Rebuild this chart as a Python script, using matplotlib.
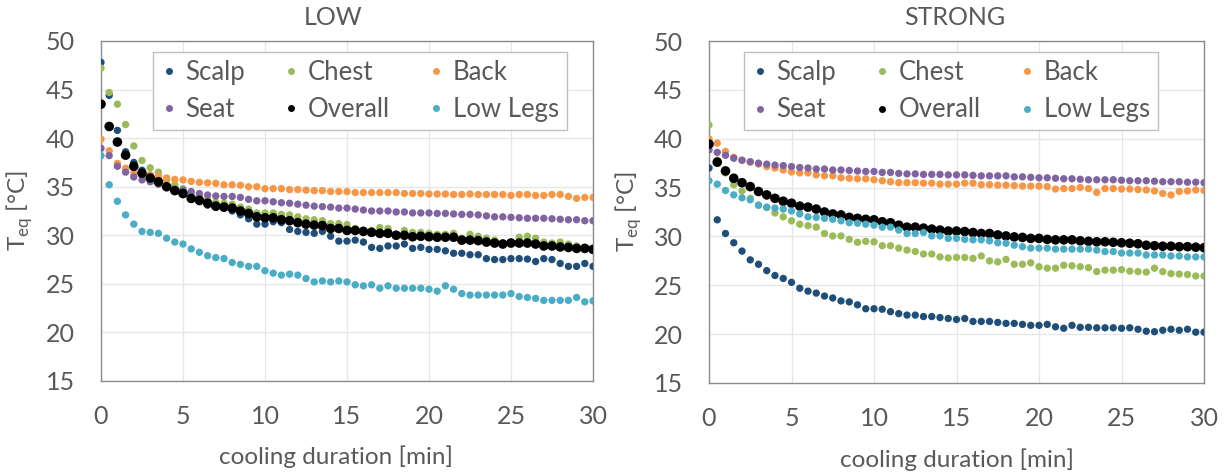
import matplotlib
matplotlib.use("Agg")
import matplotlib.pyplot as plt
from matplotlib.lines import Line2D

# cooling duration [min], one reading every 30 s
minutes = [i * 0.5 for i in range(61)]

series_names = ["Scalp", "Chest", "Back", "Seat", "Overall", "Low Legs"]
series_colors = ["#1F4E79", "#9BBB59", "#F79646", "#8064A2", "#000000", "#4BACC6"]

# LOW cooling
scalp_low = [47.8, 44.4, 40.8, 38.6, 37.5, 36.7, 36.2, 35.7, 35.1, 34.6, 34.2, 33.7, 33.45, 33.1, 32.9,
             32.8, 32.5, 32.1, 31.7, 31.15, 31.15, 31.4, 31.3,
             30.6, 30.4, 30.3, 30.2, 30.4, 29.9, 29.4, 29.4, 29.5, 29.3, 28.75, 28.65, 28.9, 28.9, 29.1,
             28.65, 28.75, 28.55, 28.55, 28.4, 28.15, 28.15, 28.0, 28.0, 27.6, 27.5, 27.5, 27.6, 27.6,
             27.55, 27.3, 27.6, 27.5, 27.1, 26.8, 26.8, 27.1, 26.8]
chest_low = [47.2, 44.7, 43.5, 41.4, 39.2, 37.7, 36.95, 36.5, 35.7, 35.2, 34.8, 34.4, 34.0, 33.7, 33.4,
             33.3, 33.2, 32.9, 32.7, 32.3, 32.3, 32.3, 32.15,
             32.1, 31.9, 31.7, 31.6, 31.5, 31.2, 31.2, 31.1, 30.7, 30.5, 30.5, 30.8, 30.7, 30.1, 30.5,
             30.3, 30.3, 30.2, 30.1, 30.1, 30.2, 29.7, 30.1, 29.9, 29.7, 29.5, 29.2, 29.3, 29.8, 29.9,
             29.7, 29.3, 29.2, 29.3, 29.1, 28.9, 28.75, 28.5]
back_low = [39.9, 38.7, 37.4, 36.9, 36.4, 36.2, 36.2, 36.1, 35.9, 35.75, 35.7, 35.55, 35.45, 35.4, 35.35,
            35.2, 35.2, 35.15, 35.0, 35.0, 34.8, 34.8, 34.8,
            34.7, 34.7, 34.65, 34.6, 34.6, 34.5, 34.5, 34.5, 34.4, 34.4, 34.4, 34.4, 34.4, 34.4, 34.3,
            34.3, 34.3, 34.25, 34.25, 34.25, 34.2, 34.2, 34.25, 34.2, 34.2, 34.2, 34.2, 34.1, 34.2, 34.2,
            34.1, 34.1, 34.2, 34.2, 34.0, 33.8, 33.9, 33.9]
seat_low = [38.95, 38.2, 37.1, 36.5, 36.0, 35.7, 35.5, 35.25, 35.0, 34.7, 34.65, 34.5, 34.3, 34.15, 34.05,
            34.0, 34.0, 33.9, 33.7, 33.55, 33.55, 33.45, 33.35,
            33.3, 33.2, 33.1, 33.0, 32.95, 32.9, 32.8, 32.8, 32.7, 32.6, 32.5, 32.5, 32.5, 32.4, 32.4,
            32.3, 32.3, 32.3, 32.25, 32.25, 32.2, 32.15, 32.15, 32.1, 32.0, 31.9, 31.9, 31.85, 31.8,
            31.75, 31.75, 31.75, 31.7, 31.65, 31.6, 31.6, 31.5, 31.5]
overall_low = [43.5, 41.2, 39.6, 38.25, 37.1, 36.4, 35.9, 35.5, 35.0, 34.6, 34.3, 33.8, 33.6, 33.3, 33.0,
               32.9, 32.8, 32.5, 32.25, 31.9, 31.8, 31.8, 31.6,
               31.5, 31.3, 31.15, 31.05, 31.0, 30.7, 30.7, 30.5, 30.5, 30.4, 30.3, 30.2, 30.2, 30.0, 30.0,
               29.85, 29.9, 29.85, 29.8, 29.8, 29.8, 29.5, 29.5, 29.45, 29.3, 29.2, 29.1, 29.2, 29.2,
               29.2, 29.1, 28.9, 28.9, 28.8, 28.75, 28.65, 28.65, 28.55]
lowlegs_low = [38.2, 35.2, 33.5, 32.1, 31.15, 30.4, 30.3, 30.2, 29.7, 29.3, 29.1, 28.6, 28.25, 27.9, 27.7,
               27.6, 27.2, 27.0, 26.8, 26.8, 26.35, 26.1, 25.9,
               26.0, 25.9, 25.55, 25.2, 25.3, 25.2, 25.3, 25.2, 24.9, 24.8, 24.9, 24.55, 24.8, 24.55, 24.55,
               24.55, 24.55, 24.45, 24.25, 24.8, 24.45, 24.0, 23.85, 23.85, 23.85, 23.85, 23.85, 24.0,
               23.7, 23.6, 23.5, 23.3, 23.3, 23.3, 23.3, 23.6, 23.15, 23.25]

# STRONG cooling
scalp_strong = [37.0, 31.7, 30.3, 29.35, 28.5, 27.6, 27.15, 26.5, 26.0, 25.7, 25.3, 24.7, 24.4, 24.2, 23.9,
                23.7, 23.4, 23.3, 23.0, 22.6, 22.6, 22.55, 22.3,
                22.1, 21.95, 21.95, 21.8, 21.8, 21.7, 21.6, 21.5, 21.6, 21.3, 21.3, 21.3, 21.2, 21.1, 21.1,
                21.0, 20.9, 20.9, 21.0, 20.75, 20.6, 20.9, 20.7, 20.7, 20.65, 20.65, 20.65, 20.6, 20.65,
                20.5, 20.3, 20.25, 20.4, 20.5, 20.4, 20.5, 20.2, 20.2]
chest_strong = [41.4, 37.8, 36.5, 35.3, 34.65, 33.9, 33.2, 32.95, 32.4, 32.0, 31.6, 31.25, 31.1, 30.95, 30.3,
                30.05, 30.05, 29.7, 29.4, 29.5, 29.45, 29.05, 29.05,
                28.8, 28.6, 28.45, 28.2, 28.2, 27.9, 27.8, 27.85, 27.85, 27.75, 28.0, 27.5, 27.4, 27.65,
                27.15, 27.15, 27.3, 26.9, 26.75, 26.75, 27.05, 27.0, 26.9, 26.8, 26.4, 26.55, 26.55, 26.6,
                26.45, 26.4, 26.35, 26.75, 26.4, 26.2, 26.15, 26.1, 25.95, 25.95]
back_strong = [40.0, 39.55, 38.7, 38.1, 37.8, 37.6, 37.4, 37.15, 37.0, 36.8, 36.6, 36.5, 36.5, 36.3, 36.2,
               36.2, 36.0, 35.95, 35.9, 35.9, 35.8, 35.7, 35.6,
               35.5, 35.5, 35.5, 35.45, 35.45, 35.35, 35.35, 35.35, 35.45, 35.45, 35.3, 35.3, 35.25, 35.25,
               35.2, 35.15, 35.15, 35.15, 35.1, 34.85, 34.9, 34.9, 35.0, 34.9, 34.5, 34.9, 34.9, 34.85,
               34.85, 34.8, 34.75, 34.65, 34.4, 34.25, 34.6, 34.65, 34.75, 34.7]
seat_strong = [38.85, 38.6, 38.3, 38.0, 37.8, 37.65, 37.5, 37.4, 37.3, 37.25, 37.15, 37.05, 37.0, 36.9, 36.9,
               36.8, 36.8, 36.75, 36.7, 36.65, 36.65, 36.55, 36.55,
               36.45, 36.4, 36.4, 36.35, 36.35, 36.35, 36.3, 36.3, 36.3, 36.25, 36.2, 36.2, 36.2, 36.2,
               36.1, 36.1, 36.05, 36.0, 36.0, 35.95, 35.9, 35.9, 35.85, 35.8, 35.8, 35.8, 35.8, 35.75,
               35.7, 35.7, 35.7, 35.65, 35.6, 35.6, 35.6, 35.55, 35.55, 35.5]
overall_strong = [39.45, 37.6, 36.7, 35.95, 35.5, 35.1, 34.6, 34.25, 33.9, 33.6, 33.4, 33.1, 33.0, 32.8, 32.5,
                  32.3, 32.2, 31.95, 31.85, 31.75, 31.7, 31.5, 31.4,
                  31.15, 30.95, 30.95, 30.85, 30.75, 30.65, 30.55, 30.55, 30.5, 30.4, 30.3, 30.3, 30.15,
                  30.05, 29.95, 29.9, 29.8, 29.8, 29.7, 29.65, 29.65, 29.65, 29.55, 29.5, 29.45, 29.45,
                  29.4, 29.35, 29.3, 29.25, 29.1, 29.05, 29.0, 29.0, 28.95, 28.95, 28.9, 28.85]
lowlegs_strong = [35.7, 35.35, 34.7, 34.25, 33.95, 33.75, 33.2, 33.0, 32.9, 32.8, 32.6, 32.3, 32.0, 31.95,
                  31.85, 31.75, 31.6, 31.4, 31.35, 31.25, 31.15, 30.95, 30.95,
                  30.65, 30.3, 30.3, 30.4, 30.05, 30.05, 29.8, 29.8, 29.7, 29.65, 29.65, 29.55, 29.35, 29.3,
                  29.1, 28.95, 28.8, 28.8, 28.8, 28.7, 28.7, 28.7, 28.7, 28.7, 28.6, 28.45, 28.45, 28.3,
                  28.3, 28.3, 28.1, 28.1, 28.1, 28.0, 28.0, 27.9, 27.9, 27.9]

x_ticks = [0, 5, 10, 15, 20, 25, 30]
y_ticks = [15, 20, 25, 30, 35, 40, 45, 50]

TEXT = "#595959"
plt.rcParams["font.family"] = ["Lato", "DejaVu Sans"]


def draw_panel(fig, rect, title, title_x, xlabel_x, ylabel_x, values, legend_left):
    ax = fig.add_axes(rect)
    for name, color, vals in zip(series_names, series_colors, values):
        size = 48 if name == "Overall" else 28
        ax.scatter(minutes, vals, s=size, color=color, edgecolors="none", zorder=3)

    ax.set_xlim(0, 30)
    ax.set_ylim(15, 50)
    ax.set_xticks(x_ticks)
    ax.set_yticks(y_ticks)
    ax.tick_params(length=0, labelsize=18, labelcolor=TEXT)
    ax.tick_params(axis="y", pad=19)
    ax.tick_params(axis="x", pad=17)
    ax.grid(color="#e6e6e6", linewidth=0.9, zorder=0)
    for side in ax.spines.values():
        side.set_color("#8c8c8c")
        side.set_linewidth(1.0)

    ax.set_xlabel("cooling duration [min]", fontsize=17.5, color=TEXT)
    ax.xaxis.set_label_coords(xlabel_x, -0.19)
    ax.set_ylabel("T$_{\\mathregular{eq}}$ [°C]", fontsize=17.5, color=TEXT)
    ax.yaxis.set_label_coords(ylabel_x, 0.5)
    ax.text(title_x, 1.07, title, transform=ax.transAxes, ha="center", va="center",
            fontsize=18, color=TEXT)

    # legend is filled column by column: Scalp/Seat, Chest/Overall, Back/Low Legs
    order = [0, 3, 1, 4, 2, 5]
    handles = [Line2D([], [], linestyle="none", marker="o", markersize=5,
                      markerfacecolor=series_colors[i], markeredgecolor="none") for i in order]
    labels = [series_names[i] for i in order]
    leg = ax.legend(handles, labels, ncol=3, loc="upper left",
                    bbox_to_anchor=(legend_left, 0.968), fontsize=18.5, frameon=True,
                    fancybox=False, edgecolor="#bfbfbf", framealpha=1,
                    handlelength=0.6, handletextpad=0.35, columnspacing=1.5,
                    labelspacing=0.5, borderpad=0.3, borderaxespad=0)
    leg.get_frame().set_linewidth(1.0)
    for t in leg.get_texts():
        t.set_color(TEXT)
    return ax


fig = plt.figure(figsize=(12.28, 4.75), dpi=100)

draw_panel(fig, [101 / 1228, 94 / 475, 492 / 1228, 340 / 475], "LOW", 0.472, 0.478, -0.135,
           [scalp_low, chest_low, back_low, seat_low, overall_low, lowlegs_low], 0.106)
draw_panel(fig, [709 / 1228, 92 / 475, 495 / 1228, 342 / 475], "STRONG", 0.497, 0.501, -0.132,
           [scalp_strong, chest_strong, back_strong, seat_strong, overall_strong, lowlegs_strong], 0.071)

fig.savefig("out.png", dpi=100)
